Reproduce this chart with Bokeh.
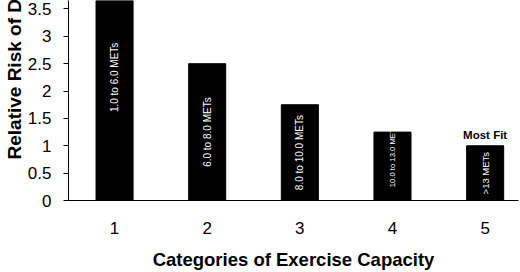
import math
from bokeh.plotting import figure
from bokeh.models import ColumnDataSource, FixedTicker, Range1d, Title
from bokeh.core.properties import value
from bokeh.embed import file_html
from bokeh.resources import INLINE

# ---- data ----
categories = ["1", "2", "3", "4", "5"]
category_pos = [1, 2, 3, 4, 5]
relative_risk = [4.5, 2.5, 1.75, 1.25, 1.0]
met_labels = ["1.0 to 6.0 METs", "6.0 to 8.0 METs", "8.0 to 10.0 METs",
              "10.0 to 13.0 METs", ">13 METs"]
y_ticks = [0, 0.5, 1, 1.5, 2, 2.5, 3, 3.5]
y_tick_labels = ["0", "0.5", "1", "1.5", "2", "2.5", "3", "3.5"]
top_note = "Most Fit"
x_title = "Categories of Exercise Capacity"
y_title = "Relative Risk of Death"

# ---- style ----
FONT = "Liberation Sans"
label_font_sizes = ["10px", "10px", "10px", "7.7px", "9.5px"]
label_shift_px = [0, 0, 0, -10, 0]

src = ColumnDataSource(dict(
    x=category_pos,
    top=relative_risk,
    mid=[v / 2 for v in relative_risk],
    lab=met_labels,
    fs=label_font_sizes,
    dy=label_shift_px,
))

p = figure(width=520, height=272, output_backend="svg", toolbar_location=None,
           x_range=Range1d(0.503, 5.36), y_range=Range1d(0, 3.655),
           min_border_left=68, min_border_right=2, min_border_top=0,
           min_border_bottom=71)
p.outline_line_color = None
p.xgrid.grid_line_color = None
p.ygrid.grid_line_color = None
p.background_fill_color = "white"
p.border_fill_color = "white"

p.vbar(x="x", top="top", width=0.4, bottom=0, source=src,
       fill_color="black", line_color="black")

p.text(x="x", y="mid", text="lab", source=src, angle=math.pi / 2,
       y_offset="dy", text_align="center", text_baseline="middle",
       text_color="white", text_font=value(FONT), text_font_size="fs")

p.text(x=[category_pos[-1]], y=[relative_risk[-1]], text=[top_note],
       text_align="center", text_baseline="bottom", y_offset=-5,
       text_color="black", text_font=value(FONT), text_font_size="11.5px",
       text_font_style="bold")

# x axis
xa = p.xaxis[0]
xa.ticker = FixedTicker(ticks=category_pos)
xa.major_label_overrides = {float(k): v for k, v in zip(category_pos, categories)}
xa.major_tick_line_color = None
xa.minor_tick_line_color = None
xa.axis_line_color = "black"
xa.major_label_standoff = 15
xa.major_label_text_font = FONT
xa.major_label_text_font_size = "17px"
xa.major_label_text_color = "black"
xa.axis_label = x_title
xa.axis_label_text_font = FONT
xa.axis_label_text_font_size = "18.5px"
xa.axis_label_text_font_style = "bold"
xa.axis_label_text_color = "black"
xa.axis_label_standoff = 12

# y axis
ya = p.yaxis[0]
ya.ticker = FixedTicker(ticks=y_ticks)
ya.major_label_overrides = {float(k): v for k, v in zip(y_ticks, y_tick_labels)}
ya.major_tick_out = 5
ya.major_tick_in = 0
ya.minor_tick_line_color = None
ya.axis_line_color = "black"
ya.major_tick_line_color = "black"
ya.major_label_standoff = 12
ya.major_label_text_font = FONT
ya.major_label_text_font_size = "17px"
ya.major_label_text_color = "black"

p.add_layout(Title(text=y_title, align="left", offset=41, standoff=0,
                   text_font=FONT, text_font_size="19px",
                   text_font_style="bold", text_color="black"), "left")

open("out.html", "w").write(file_html(p, INLINE))
